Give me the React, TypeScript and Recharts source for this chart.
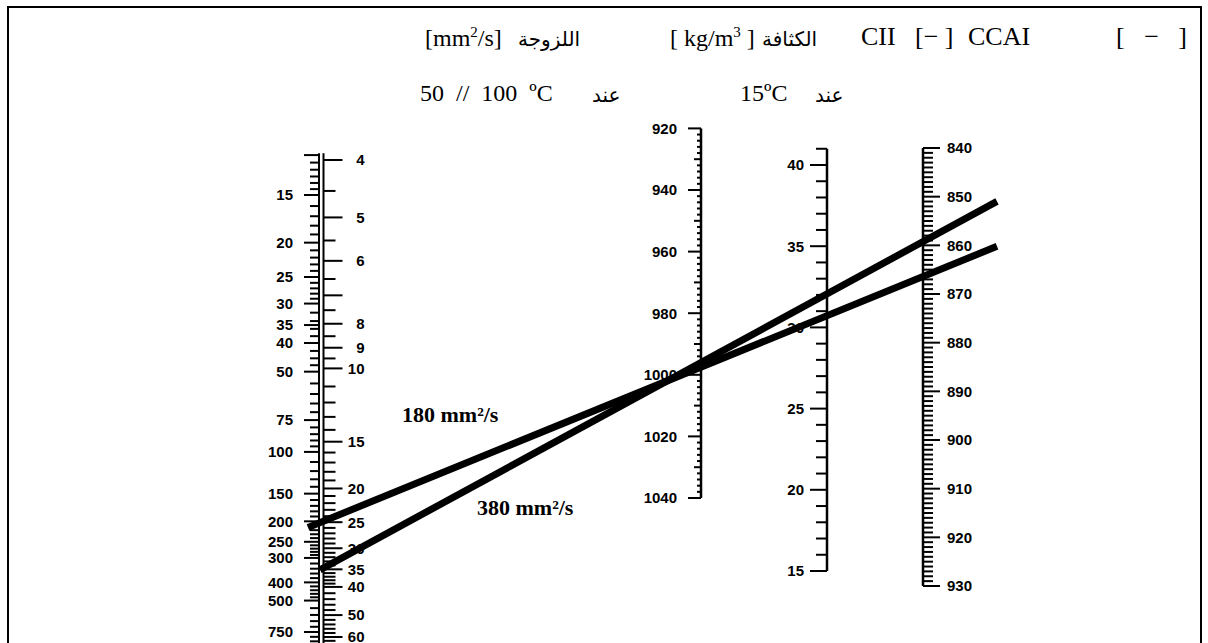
import React from 'react';
import { ComposedChart, XAxis, YAxis, Scatter, Line, ReferenceLine } from 'recharts';

// nomogram scale values
const visc50Labels = [15, 20, 25, 30, 35, 40, 50, 75, 100, 150, 200, 250, 300, 400, 500, 750];
const visc50Unlabelled = [12];
const visc100Labels = [4, 5, 6, 8, 9, 10, 15, 20, 25, 30, 35, 40, 50, 60];
const visc100Unlabelled = [7];
const densityLabels = [920, 940, 960, 980, 1000, 1020, 1040];
const ciiLabels = [15, 20, 25, 30, 35, 40];
const ccaiLabels = [840, 850, 860, 870, 880, 890, 900, 910, 920, 930];

// the two worked examples, read where each line meets the scales
const fuelNames = ['180 mm²/s', '380 mm²/s'];
const fuelVisc100 = [25, 35];
const fuelDensity = [997.5, 996];

const W = 1208;
const H = 643;

const steps = (from: number, to: number, step: number) => {
    const out: number[] = [];
    for (let v = from; v <= to + 1e-9; v += step) out.push(Math.round(v * 100) / 100);
    return out;
};
const without = (list: number[], skip: number[]) => list.filter(v => !skip.includes(v));

const visc50Minor = without(
    [...steps(12.5, 15, 0.5), ...steps(16, 30, 1), ...steps(32, 40, 2), ...steps(42.5, 50, 2.5),
     ...steps(55, 100, 5), ...steps(110, 300, 10), ...steps(320, 500, 20), ...steps(550, 1000, 50)],
    [...visc50Labels, ...visc50Unlabelled]);
const visc100Minor = without(
    [...steps(4.5, 10, 0.5), ...steps(11, 40, 1), ...steps(42, 70, 2)],
    [...visc100Labels, ...visc100Unlabelled]);
const densityMid = steps(930, 1030, 20);
const densityMinor = without(steps(920, 1040, 2), [...densityLabels, ...densityMid]);
const ciiMinor = without(steps(16, 41, 1), ciiLabels);
const ccaiMinor = without(steps(840, 930, 1), ccaiLabels);

// how each scale sits on the sheet: transform + two reference values
const loglog = (v: number) => Math.log10(Math.log10(v + 0.7));
const linear = (v: number) => v;
type Cal = { f: (v: number) => number; a: [number, number]; b: [number, number] };
const CAL: Record<string, Cal> = {
    v50: { f: loglog, a: [15, 195], b: [750, 632] },
    v100: { f: loglog, a: [4, 160], b: [60, 637] },
    rho: { f: linear, a: [940, 190], b: [1040, 498] },
    cii: { f: linear, a: [40, 165], b: [15, 571] },
    ccai: { f: linear, a: [840, 148], b: [930, 586] },
};
const at = (key: string) => (v: number) => {
    const c = CAL[key];
    const t0 = c.f(c.a[0]);
    const t1 = c.f(c.b[0]);
    return c.a[1] + (c.f(v) - t0) * (c.b[1] - c.a[1]) / (t1 - t0);
};
const AX = { v50: 319, v100: 323.5, visc: 321, rho: 701, cii: 827, ccai: 923 };
const lineStart = [308, 320];
const lineEnd = 997;

const tickFont = '"Liberation Sans", Arial, sans-serif';
const serif = '"Liberation Serif", "Times New Roman", serif';
const arabic = '"DejaVu Sans", sans-serif';

const tickShape = (len: number, dir: number, labelDx: number | null, anchor: 'start' | 'end') => (p: any) => (
    <g>
        <line x1={p.cx} y1={p.cy} x2={p.cx + dir * len} y2={p.cy} stroke="#000" strokeWidth={2} />
        {labelDx !== null && (
            <text x={p.cx + labelDx} y={p.cy} dy="0.36em" textAnchor={anchor}
                fontFamily={tickFont} fontWeight={700} fontSize={15} fill="#000">
                {p.payload.label}
            </text>
        )}
    </g>
);

const pts = (key: keyof typeof AX, scaleKey: string, values: number[]) =>
    values.map(v => ({ x: AX[key], y: at(scaleKey)(v), label: String(v) }));

const fuelLines = fuelNames.map((name, i) => {
    const x1 = AX.visc;
    const y1 = at('v100')(fuelVisc100[i]);
    const x2 = AX.rho;
    const y2 = at('rho')(fuelDensity[i]);
    const k = (y2 - y1) / (x2 - x1);
    return {
        name,
        data: [
            { x: lineStart[i], y: y1 + k * (lineStart[i] - x1) },
            { x: lineEnd, y: y1 + k * (lineEnd - x1) },
        ],
    };
});

const axisSeg = (x: number, y1: number, y2: number) => [{ x, y: y1 }, { x, y: y2 }];

const Txt = ({ left, right, top, font, size, bold, children }: any) => (
    <div style={{
        position: 'absolute', left, right: right !== undefined ? W - right : undefined, top,
        transform: 'translateY(-50%)', lineHeight: 1,
        fontFamily: font, fontSize: size, fontWeight: bold ? 700 : 400, whiteSpace: 'pre', color: '#000',
    }}>{children}</div>
);

export default function App() {
    const sup = { fontSize: 15 };
    return (
        <div style={{ position: 'fixed', left: 0, top: 0, width: W, height: H, overflow: 'hidden', background: '#fff' }}>
            <div style={{ position: 'absolute', left: 7, top: 6, width: 1191, height: 700, border: '2px solid #000' }} />

            <Txt left={425} top={37} font={serif} size={24}>[mm<sup style={sup}>2</sup>/s]</Txt>
            <Txt left={518} top={39} font={arabic} size={20}>اللزوجة</Txt>
            <Txt left={670} top={37} font={serif} size={24}>[ kg/m<sup style={sup}>3</sup> ]</Txt>
            <Txt left={762} top={39} font={arabic} size={20}>الكثافة</Txt>
            <Txt left={861} top={37} font={serif} size={26}>CII</Txt>
            <Txt left={915} top={37} font={serif} size={26}>[− ]</Txt>
            <Txt left={968} top={37} font={serif} size={26}>CCAI</Txt>
            <Txt right={1187} top={37} font={serif} size={26}>[   −   ]</Txt>
            <Txt left={420} top={93} font={serif} size={24}>50  //  100  ºC</Txt>
            <Txt left={592} top={95} font={arabic} size={20}>عند</Txt>
            <Txt left={740} top={93} font={serif} size={24}>15ºC</Txt>
            <Txt left={815} top={95} font={arabic} size={20}>عند</Txt>

            <ComposedChart width={W} height={H} margin={{ top: 0, right: 0, bottom: 0, left: 0 }}>
                <XAxis type="number" dataKey="x" domain={[0, W]} hide allowDataOverflow />
                <YAxis type="number" dataKey="y" domain={[0, H]} reversed hide allowDataOverflow width={0} />

                <ReferenceLine segment={axisSeg(AX.v50, at('v100')(3.9), at('v100')(70))} stroke="#000" strokeWidth={2} ifOverflow="visible" />
                <ReferenceLine segment={axisSeg(AX.v100, at('v100')(3.9), at('v100')(70))} stroke="#000" strokeWidth={2} ifOverflow="visible" />
                <ReferenceLine segment={axisSeg(AX.rho, at('rho')(920), at('rho')(1040))} stroke="#000" strokeWidth={2.5} ifOverflow="visible" />
                <ReferenceLine segment={axisSeg(AX.cii, at('cii')(41), at('cii')(15))} stroke="#000" strokeWidth={2.5} ifOverflow="visible" />
                <ReferenceLine segment={axisSeg(AX.ccai, at('ccai')(840), at('ccai')(930))} stroke="#000" strokeWidth={2.5} ifOverflow="visible" />

                <Scatter data={pts('v50', 'v50', visc50Labels)} dataKey="y" shape={tickShape(15, -1, -26, 'end')} isAnimationActive={false} />
                <Scatter data={pts('v50', 'v50', visc50Unlabelled)} dataKey="y" shape={tickShape(15, -1, null, 'end')} isAnimationActive={false} />
                <Scatter data={pts('v50', 'v50', visc50Minor)} dataKey="y" shape={tickShape(9, -1, null, 'end')} isAnimationActive={false} />

                <Scatter data={pts('v100', 'v100', visc100Labels)} dataKey="y" shape={tickShape(19, 1, 41, 'end')} isAnimationActive={false} />
                <Scatter data={pts('v100', 'v100', visc100Unlabelled)} dataKey="y" shape={tickShape(19, 1, null, 'end')} isAnimationActive={false} />
                <Scatter data={pts('v100', 'v100', visc100Minor)} dataKey="y" shape={tickShape(12, 1, null, 'end')} isAnimationActive={false} />

                <Scatter data={pts('rho', 'rho', densityLabels)} dataKey="y" shape={tickShape(13, -1, -24, 'end')} isAnimationActive={false} />
                <Scatter data={pts('rho', 'rho', densityMid)} dataKey="y" shape={tickShape(7, -1, null, 'end')} isAnimationActive={false} />
                <Scatter data={pts('rho', 'rho', densityMinor)} dataKey="y" shape={tickShape(4, -1, null, 'end')} isAnimationActive={false} />

                <Scatter data={pts('cii', 'cii', ciiLabels)} dataKey="y" shape={tickShape(17, -1, -23, 'end')} isAnimationActive={false} />
                <Scatter data={pts('cii', 'cii', ciiMinor)} dataKey="y" shape={tickShape(11, -1, null, 'end')} isAnimationActive={false} />

                <Scatter data={pts('ccai', 'ccai', ccaiLabels)} dataKey="y" shape={tickShape(17, 1, 24, 'start')} isAnimationActive={false} />
                <Scatter data={pts('ccai', 'ccai', ccaiMinor)} dataKey="y" shape={tickShape(10, 1, null, 'start')} isAnimationActive={false} />

                {fuelLines.map(l => (
                    <Line key={l.name} data={l.data} dataKey="y" type="linear" stroke="#000" strokeWidth={7}
                        dot={false} activeDot={false} isAnimationActive={false} />
                ))}
            </ComposedChart>

            <Txt left={402} top={415} font={serif} size={22} bold>{fuelNames[0]}</Txt>
            <Txt left={477} top={508} font={serif} size={22} bold>{fuelNames[1]}</Txt>
        </div>
    );
}
